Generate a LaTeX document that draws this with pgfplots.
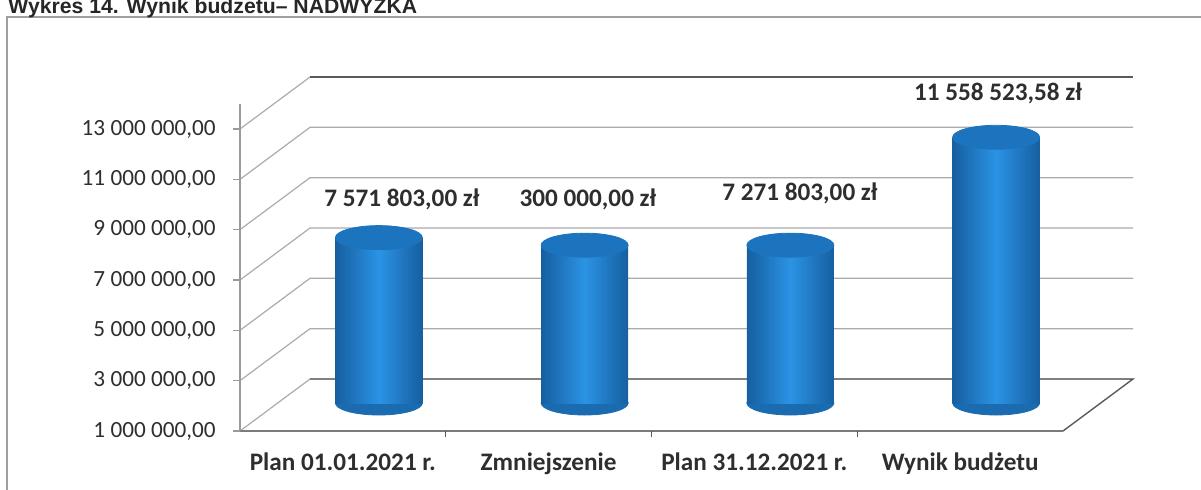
\documentclass[border=0pt]{standalone}
\usepackage{pgfplots}
\pgfplotsset{compat=1.18}
\usepackage{fontspec}
\setmainfont{Carlito}
\newfontfamily\titlefont{Liberation Sans}
\definecolor{cdark}{HTML}{165FA0}
\definecolor{clight}{HTML}{2B93E5}
\definecolor{ctop}{HTML}{1C74BF}
\definecolor{cbot}{HTML}{1A6BB0}
\definecolor{gridc}{HTML}{ABABAB}
\definecolor{darkl}{HTML}{5A5A5A}
\definecolor{labc}{HTML}{2E2E2E}

\begin{document}
\begin{tikzpicture}[x=1pt,y=1pt]
\useasboundingbox (0,0) rectangle (600.5,244.5);
\clip (0,0) rectangle (600.5,244.5);
% outer frame
\draw[gray!75, line width=0.9pt] (3.5,-2) -- (3.5,236) -- (603,236);
% title (cut at top in the reference)
\node[anchor=base west, inner sep=0pt, text=black!85,
      font=\titlefont\bfseries\fontsize{10.6}{12}\selectfont] at (4,238) {Wykres 14. Wynik budżetu– NADWYŻKA};
% walls and grid (decoration)
\foreach \k in {0,...,5} {
  \draw[gridc, line width=0.6pt] (120,29+\k*25.1667) -- ++(35,26) -- ++(411.5,0);
}
\draw[gridc, line width=0.6pt] (120,29+6*25.1667) -- ++(35,26);
\draw[darkl, line width=0.7pt] (155,29+6*25.1667+26) -- ++(411.5,0);
\draw[darkl, line width=0.7pt] (155,55) -- (566.5,55) -- (531.5,29);
\draw[darkl!80, line width=0.7pt] (120,29) -- (531.5,29);
\draw[gridc!90!black, line width=0.7pt] (120,29) -- (120,192.5);
\foreach \k in {0,...,6} { \draw[gridc!90!black, line width=0.6pt] (116.5,29+\k*25.1667) -- (120,29+\k*25.1667); }
\foreach \k in {1,2,3} { \draw[darkl, line width=0.6pt] (120+\k*102.875,29) -- ++(0,-3); }

% front axis: tick labels
\begin{axis}[at={(120pt,29pt)}, anchor=south west, scale only axis,
  width=411.5pt, height=151pt,
  xmin=-0.5, xmax=3.5, ymin=1e6, ymax=13e6,
  scaled y ticks=false,
  axis line style={draw=none}, major tick length=0pt,
  xtick={0,1,2,3},
  xticklabels={Plan 01.01.2021 r., Zmniejszenie, Plan 31.12.2021 r., Wynik budżetu},
  xticklabel style={anchor=base, yshift=-19.5pt, text=labc, font=\bfseries\fontsize{12.6}{14}\selectfont},
  ytick={1e6,3e6,5e6,7e6,9e6,11e6,13e6},
  yticklabels={{1 000 000,00},{3 000 000,00},{5 000 000,00},{7 000 000,00},{9 000 000,00},{11 000 000,00},{13 000 000,00}},
  yticklabel style={anchor=east, inner sep=0pt, xshift=-12pt, text=labc, font=\fontsize{11.6}{13}\selectfont},
]
\end{axis}

% bars (mid-depth plane)
\begin{axis}[at={(138pt,43pt)}, anchor=south west, scale only axis,
  width=411.5pt, height=151pt,
  xmin=-0.5, xmax=3.5, ymin=0, ymax=12e6,
  y filter/.expression={y-1e6},
  hide axis, clip=false, clip marker paths=true]
\addplot[only marks, color=cbot, mark=*, mark size=21.75pt, mark options={yscale=0.276, fill=cbot, draw=cbot}]
  coordinates {(0,1e6) (1,1e6) (2,1e6) (3,1e6)};
\addplot[ybar, bar width=43.5pt, bar shift=0pt, draw=none, left color=cdark, right color=cdark, middle color=clight] coordinates {(0,7571803)};
\addplot[ybar, bar width=43.5pt, bar shift=0pt, draw=none, left color=cdark, right color=cdark, middle color=clight] coordinates {(1,7271803)};
\addplot[ybar, bar width=43.5pt, bar shift=0pt, draw=none, left color=cdark, right color=cdark, middle color=clight] coordinates {(2,7271803)};
\addplot[ybar, bar width=43.5pt, bar shift=0pt, draw=none, left color=cdark, right color=cdark, middle color=clight] coordinates {(3,11558523.58)};
\addplot[only marks, color=ctop, mark=*, mark size=21.75pt, mark options={yscale=0.276, fill=ctop, draw=ctop}]
  coordinates {(0,7571803) (1,7271803) (2,7271803) (3,11558523.58)};
\end{axis}

% data labels
\begin{scope}[every node/.style={inner sep=0pt, text=labc, font=\bfseries\fontsize{12.6}{14}\selectfont}]
\node at (201,145) {7 571 803,00 zł};
\node at (294,145) {300 000,00 zł};
\node at (400,148) {7 271 803,00 zł};
\node at (499,198) {11 558 523,58 zł};
\end{scope}
\end{tikzpicture}
\end{document}
